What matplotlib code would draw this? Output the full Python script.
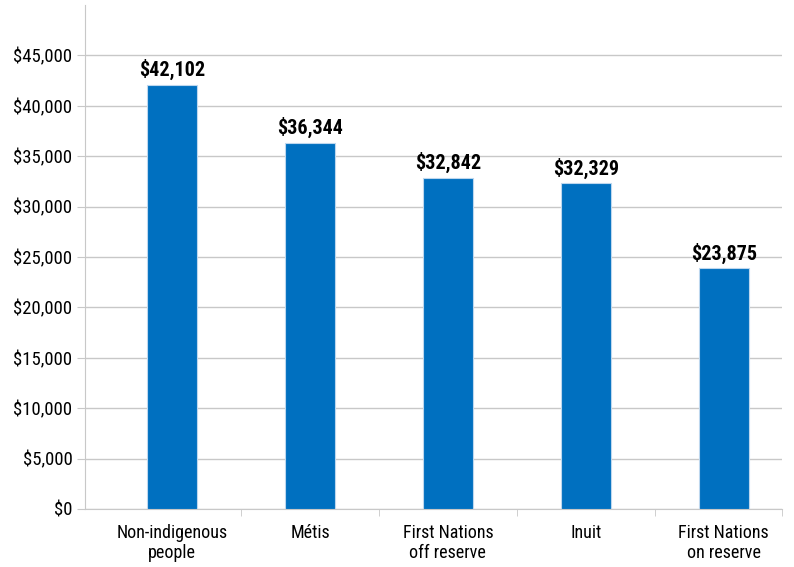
import numpy as np
import matplotlib.pyplot as plt

plt.rcParams['font.family'] = ['Roboto Condensed', 'DejaVu Sans']

categories = ['Non-indigenous\npeople', 'Métis', 'First Nations\noff reserve', 'Inuit', 'First Nations\non reserve']
incomes = [42102, 36344, 32842, 32329, 23875]
yticks = [0, 5000, 10000, 15000, 20000, 25000, 30000, 35000, 40000, 45000]

fig = plt.figure(figsize=(7.94, 5.67), dpi=100)
ax = fig.add_axes([0.1071, 0.1023, 0.8778, 0.8889])

x = np.arange(len(categories))
bars = ax.bar(x, incomes, width=0.365, color='#0070C0', edgecolor='#BDD7EE', linewidth=0.8, zorder=3)

for b, v in zip(bars, incomes):
    ax.text(b.get_x() + b.get_width() / 2, v + 450, '${:,}'.format(v), ha='center', va='bottom',
            fontsize=14.5, fontweight='bold', color='black', zorder=4)

xmin, xmax = -0.631, 4.423
ax.set_xlim(xmin, xmax)
ax.set_ylim(0, 50000)
ax.set_yticks(yticks)
ax.set_yticklabels(['${:,}'.format(t) for t in yticks], fontsize=13.5)
ax.yaxis.grid(True, color='#C8C8C8', linewidth=1, zorder=0)
ax.tick_params(axis='y', length=6, color='#C8C8C8', pad=3)

ax.set_xticks(x)
ax.set_xticklabels(categories, fontsize=13, linespacing=1.15)
ax.set_xticks([0.5, 1.5, 2.5, 3.5, xmax], minor=True)
ax.tick_params(axis='x', which='major', length=0, pad=11)
ax.tick_params(axis='x', which='minor', length=5, color='#C8C8C8')

for s in ['top', 'right']:
    ax.spines[s].set_visible(False)
for s in ['left', 'bottom']:
    ax.spines[s].set_color('#C8C8C8')

plt.savefig('out.png', dpi=100)
